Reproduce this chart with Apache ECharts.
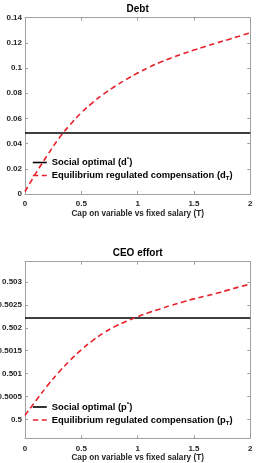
<!DOCTYPE html>
<html>
<head>
<meta charset="utf-8">
<script src="https://cdn.jsdelivr.net/npm/echarts@6/dist/echarts.min.js"></script>
<style>
  html, body { margin: 0; padding: 0; background: #fff; }
  #main { width: 257px; height: 463px; }
</style>
</head>
<body>
<div id="main"></div>
<script>
// cap on variable vs fixed salary
const capT = [0, 0.1, 0.2, 0.3, 0.4, 0.5, 0.6, 0.7, 0.8, 0.9, 1.0,
              1.1, 1.2, 1.3, 1.4, 1.5, 1.6, 1.7, 1.8, 1.9, 2.0];
// debt, equilibrium regulated compensation
const debtEq = [0.002, 0.017, 0.031, 0.044, 0.055, 0.0645, 0.0725, 0.0795, 0.0855, 0.091, 0.096,
                0.1005, 0.1045, 0.108, 0.1112, 0.1142, 0.117, 0.1198, 0.1225, 0.1252, 0.128];
const debtSocial = 0.0484;
// CEO effort, equilibrium regulated compensation
const effortEq = [0.50009, 0.50042, 0.50074, 0.50103, 0.50129, 0.50152, 0.50172, 0.50189, 0.50203, 0.50214, 0.50224,
                  0.50233, 0.50241, 0.50249, 0.50256, 0.50263, 0.50269, 0.50275, 0.50282, 0.50289, 0.50295];
const effortSocial = 0.50221;
const effortTicks = [0.5, 0.5005, 0.501, 0.5015, 0.502, 0.5025, 0.503];

const FONT = 'Liberation Sans';
const AXC = '#a0a0a0';
const RED = '#e8202a';

const chart = echarts.init(document.getElementById('main'));

function xAx(grid, top) {
  return {
    type: 'value', gridIndex: grid, position: top ? 'top' : 'bottom',
    min: 0, max: 2, interval: 0.5,
    name: top ? '' : 'Cap on variable vs fixed salary (T)',
    nameLocation: 'middle', nameGap: 15.5,
    nameTextStyle: { fontFamily: FONT, fontWeight: 'bold', fontSize: 8.2, color: '#262626' },
    axisLine: { show: true, onZero: false, lineStyle: { color: AXC, width: 1 } },
    axisTick: { show: true, inside: true, length: 3, lineStyle: { color: AXC } },
    axisLabel: { show: !top, margin: 6, fontFamily: FONT, fontWeight: 'bold', fontSize: 8, color: '#262626' },
    splitLine: { show: false }
  };
}

function yAx(grid, right, extra) {
  return Object.assign({
    type: 'value', gridIndex: grid, position: right ? 'right' : 'left',
    axisLine: { show: true, onZero: false, lineStyle: { color: AXC, width: 1 } },
    axisTick: { show: true, inside: true, length: 3, lineStyle: { color: AXC } },
    axisLabel: { show: !right, margin: 3, fontFamily: FONT, fontWeight: 'bold', fontSize: 8, color: '#262626' },
    splitLine: { show: false }
  }, extra);
}

const debtY = { min: 0, max: 0.14, interval: 0.02 };
function effortY() {
  return {
    min: 0.49959, max: 0.50344,
    axisTick: { show: true, inside: true, length: 3, lineStyle: { color: AXC }, customValues: effortTicks },
    axisLabel: { show: true, margin: 3, fontFamily: FONT, fontWeight: 'bold', fontSize: 8, color: '#262626',
                 customValues: effortTicks, formatter: v => String(+v.toFixed(4)) }
  };
}
const effortYRight = effortY();
effortYRight.axisLabel.show = false;

const legendRich = {
  n: { fontFamily: FONT, fontWeight: 'bold', fontSize: 9.4, lineHeight: 12, color: '#000', verticalAlign: 'middle' },
  sup: { fontFamily: FONT, fontWeight: 'bold', fontSize: 6, lineHeight: 12, color: '#000', verticalAlign: 'top' },
  sub: { fontFamily: FONT, fontWeight: 'bold', fontSize: 6, lineHeight: 12, color: '#000', verticalAlign: 'bottom' }
};
const legendLabels = {
  'd*': '{n|Social optimal (d}{sup|*}{n|)}',
  'dT': '{n|Equilibrium regulated compensation (d}{sub|T}{n|)}',
  'p*': '{n|Social optimal (p}{sup|*}{n|)}',
  'pT': '{n|Equilibrium regulated compensation (p}{sub|T}{n|)}'
};

function legend(names, top) {
  return {
    data: names, orient: 'vertical', left: 32, top: top, padding: 0,
    itemWidth: 14, itemHeight: 10, itemGap: 4, selectedMode: false,
    itemStyle: { opacity: 0, borderWidth: 0 },
    lineStyle: { width: 1.6 },
    formatter: n => legendLabels[n],
    textStyle: { rich: legendRich }
  };
}

function lineSeries(name, xi, yi, xs, ys, dashed) {
  return {
    name: name, type: 'line', xAxisIndex: xi, yAxisIndex: yi,
    data: xs.map((t, i) => [t, ys[i]]), showSymbol: false, symbol: 'none', smooth: 0.4,
    lineStyle: dashed ? { color: RED, width: 1.6, type: [5.5, 3.5] } : { color: '#000', width: 1.5 },
    itemStyle: { color: dashed ? RED : '#000' }
  };
}

chart.setOption({
  animation: false,
  title: [
    { text: 'Debt', left: 137.7, top: 4, textAlign: 'center', padding: 0,
      textStyle: { fontFamily: FONT, fontWeight: 'bold', fontSize: 10, color: '#000' } },
    { text: 'CEO effort', left: 137.7, top: 248, textAlign: 'center', padding: 0,
      textStyle: { fontFamily: FONT, fontWeight: 'bold', fontSize: 10, color: '#000' } }
  ],
  grid: [
    { left: 25, right: 6.7, top: 17.6, height: 176.4, outerBoundsMode: 'none', containLabel: false },
    { left: 25, right: 6.7, top: 261.7, height: 176.6, outerBoundsMode: 'none', containLabel: false }
  ],
  xAxis: [xAx(0, false), xAx(0, true), xAx(1, false), xAx(1, true)],
  yAxis: [yAx(0, false, debtY), yAx(0, true, debtY), yAx(1, false, effortY()), yAx(1, true, effortYRight)],
  legend: [legend(['d*', 'dT'], 156.5), legend(['p*', 'pT'], 401)],
  series: [
    lineSeries('d*', 0, 0, capT, capT.map(() => debtSocial), false),
    lineSeries('dT', 0, 0, capT, debtEq, true),
    lineSeries('p*', 2, 2, capT, capT.map(() => effortSocial), false),
    lineSeries('pT', 2, 2, capT, effortEq, true)
  ]
});
</script>
</body>
</html>
